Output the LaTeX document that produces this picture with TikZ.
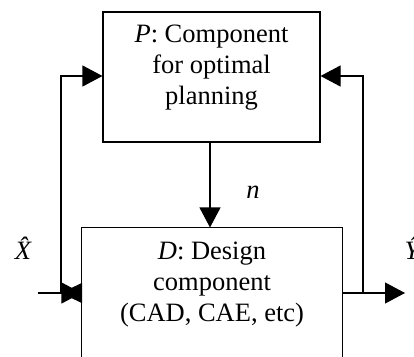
\documentclass[tikz,border=0pt]{standalone}
\usepackage{fontspec}
\setmainfont{Liberation Serif}
\usetikzlibrary{arrows.meta}
\begin{document}
\begin{tikzpicture}[x=1pt,y=-1pt,
  line width=1.1pt,
  txt/.style={align=center,inner sep=0pt,font=\fontsize{26.5}{31}\selectfont},
  lbl/.style={inner sep=0pt,font=\fontsize{26.5}{31}\selectfont\itshape},
  tip/.style={-{Triangle[length=20pt,width=21pt]}},
  rtip/.style={{Triangle[length=21pt,width=20pt]}-},
  box/.style={draw,minimum width=217pt,minimum height=130pt,inner sep=0pt}]
\useasboundingbox (0,0) rectangle (414,356);
% P box
\node[box] (P) at (211.5,77) {};
\node[txt] (Ptext) at (211.5,68) {\textit{P}: Component\\for optimal\\planning};
% D box (open at bottom, cut by the frame)
\node[minimum width=260pt,minimum height=128pt,inner sep=0pt] (D) at (212,292) {};
\draw (D.south west) -- (D.north west) -- (D.north east) -- (D.south east);
\node[txt] (Dtext) at (212,285) {\textit{D}: Design\\component\\(CAD, CAE, etc)};
% junctions and ends
\coordinate (in) at (38,293);
\coordinate (jl) at (61,293);
\coordinate (Din) at (D.west |- in);
\coordinate (Dout) at (D.east |- in);
\coordinate (jr) at (363,293);
\coordinate (out) at (405,293);
\coordinate (Pl) at (P.west |- 0,76);
\coordinate (Pr) at (P.east |- 0,76);
% connectors
\draw[tip] (P.south -| 210,0) -- (D.north -| 210,0);
\draw[tip] (in) -- (Din);
\draw[rtip] (jl) -- (Din);
\draw[tip] (jl) |- (Pl);
\draw[tip] (Dout) -- (out);
\draw[tip] (jr) |- (Pr);
% labels
\node[lbl] (n) at (253,192) {n};
\node[lbl] (X) at (23,248) {\^X};
\node[lbl] (Y) at (412,248) {\^Y};
\end{tikzpicture}
\end{document}
